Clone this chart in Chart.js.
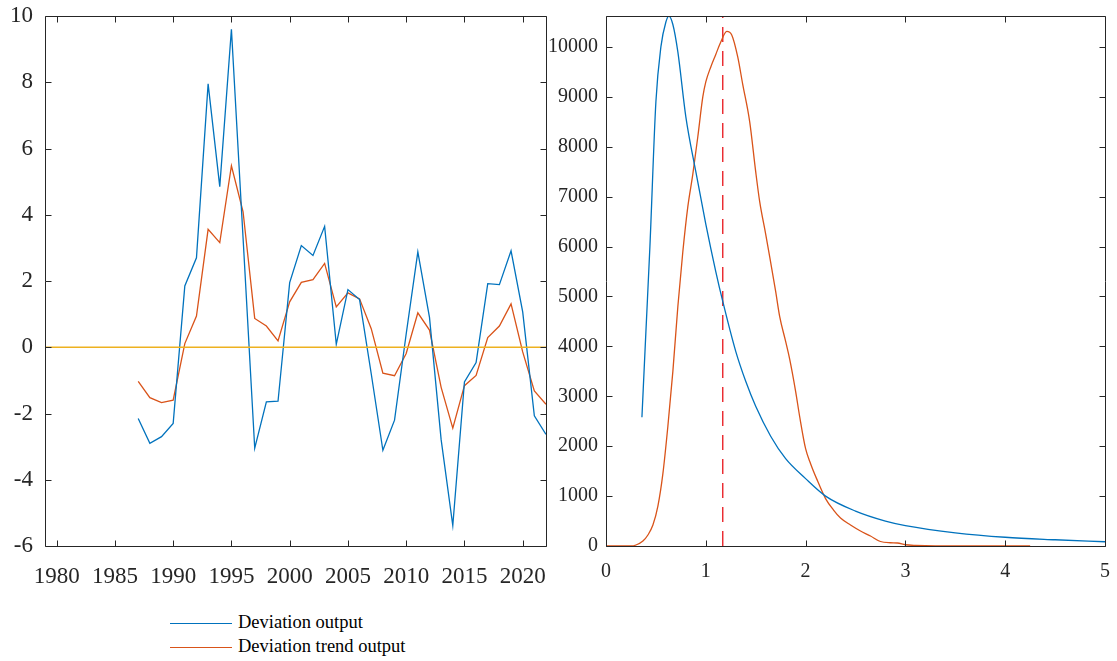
<!DOCTYPE html>
<html>
<head>
<meta charset="utf-8">
<script src="https://cdn.jsdelivr.net/npm/chart.js@4.4.1/dist/chart.umd.min.js"></script>
<style>
  body { margin: 0; background: #fff; width: 1117px; height: 661px; overflow: hidden; position: relative; }
  canvas { position: absolute; top: 0; }
  #left { left: 0; }
  #right { left: 540px; }
  #legend { position: absolute; left: 170px; top: 610px; font-family: 'Liberation Serif', 'Times New Roman', serif; font-size: 18.5px; color: #000; line-height: 24px; }
  #legend .row { white-space: nowrap; }
  #legend .swatch { display: inline-block; width: 62px; height: 0; vertical-align: middle; margin-right: 6px; }
</style>
</head>
<body>
<canvas id="left" width="560" height="600"></canvas>
<canvas id="right" width="577" height="600"></canvas>
<div id="legend">
  <div class="row"><span class="swatch" style="border-top: 1.3px solid #0072BD"></span>Deviation output</div>
  <div class="row"><span class="swatch" style="border-top: 1.3px solid #D95319"></span>Deviation trend output</div>
</div>
<script>
// left panel: yearly deviations
const years = [1987, 1988, 1989, 1990, 1991, 1992, 1993, 1994, 1995, 1996, 1997, 1998,
  1999, 2000, 2001, 2002, 2003, 2004, 2005, 2006, 2007, 2008, 2009, 2010,
  2011, 2012, 2013, 2014, 2015, 2016, 2017, 2018, 2019, 2020, 2021, 2022];
const deviationOutput = [-2.15, -2.9, -2.7, -2.3, 1.85, 2.7, 7.95, 4.85, 9.6, 3.3, -3.05, -1.65,
  -1.63, 1.95, 3.07, 2.77, 3.65, 0.09, 1.74, 1.44, -0.8, -3.11, -2.2, 0.4,
  2.88, 0.9, -2.79, -5.38, -1.05, -0.46, 1.92, 1.89, 2.91, 1.07, -2.07, -2.63];
const deviationTrend = [-1.03, -1.52, -1.67, -1.6, 0.11, 0.94, 3.56, 3.16, 5.48, 4.09, 0.87, 0.64,
  0.19, 1.37, 1.96, 2.04, 2.53, 1.22, 1.64, 1.46, 0.56, -0.78, -0.86, -0.19,
  1.04, 0.52, -1.21, -2.44, -1.16, -0.85, 0.29, 0.64, 1.31, -0.14, -1.32, -1.72];
const yearTicks = [1980, 1985, 1990, 1995, 2000, 2005, 2010, 2015, 2020];
const leftYTicks = [-6, -4, -2, 0, 2, 4, 6, 8, 10];

// right panel: distributions
const outputX = [0.36, 0.40, 0.44, 0.50, 0.55, 0.60, 0.63, 0.67, 0.72, 0.80, 0.90, 1.00, 1.10, 1.17,
  1.30, 1.40, 1.50, 1.65, 1.80, 2.00, 2.20, 2.50, 2.80, 3.00, 3.50, 4.00, 4.50, 5.00];
const outputY = [2580, 4300, 6000, 8900, 10000, 10500, 10620, 10450, 9900, 8600, 7500, 6450, 5500, 4900,
  3900, 3300, 2800, 2200, 1750, 1350, 1000, 700, 500, 410, 265, 175, 125, 85];
const trendX = [0, 0.25, 0.30, 0.37, 0.42, 0.47, 0.52, 0.57, 0.62, 0.67, 0.72, 0.77, 0.82, 0.87, 0.92,
  0.97, 1.00, 1.05, 1.10, 1.15, 1.21, 1.26, 1.32, 1.37, 1.44, 1.50, 1.54, 1.60, 1.64, 1.70, 1.74,
  1.80, 1.84, 1.90, 1.94, 2.00, 2.05, 2.11, 2.20, 2.28, 2.35, 2.45, 2.55, 2.65, 2.75, 2.85, 2.92,
  3.00, 3.10, 3.30, 4.25];
const trendY = [0, 0, 20, 100, 220, 420, 800, 1450, 2400, 3500, 4800, 5900, 6800, 7450, 8200,
  9000, 9300, 9600, 9850, 10100, 10310, 10240, 9800, 9250, 8500, 7500, 6900, 6250, 5800, 5100, 4600,
  4100, 3750, 3100, 2600, 1950, 1650, 1350, 950, 720, 560, 420, 300, 200, 90, 65, 60,
  25, 10, 0, 0];
const markerX = 1.17;
const rightXTicks = [0, 1, 2, 3, 4, 5];
const rightYTicks = [0, 1000, 2000, 3000, 4000, 5000, 6000, 7000, 8000, 9000, 10000];

const serif = "'Liberation Serif', 'Times New Roman', serif";
const axisColor = '#262626';

function pts(xs, ys) {
  return xs.map((x, i) => ({ x: x, y: ys[i] }));
}

// box round the plot with inward ticks on all four sides
const frame = {
  id: 'frame',
  afterDatasetsDraw(chart) {
    const { ctx, chartArea: a, scales } = chart;
    const len = 6;
    ctx.save();
    ctx.strokeStyle = axisColor;
    ctx.lineWidth = 1;
    ctx.beginPath();
    const L = Math.round(a.left) + 0.5, R = Math.round(a.right) + 0.5;
    const T = Math.round(a.top) + 0.5, B = Math.round(a.bottom) + 0.5;
    ctx.rect(L, T, R - L, B - T);
    scales.x.ticks.forEach(t => {
      const px = Math.round(scales.x.getPixelForValue(t.value)) + 0.5;
      ctx.moveTo(px, B); ctx.lineTo(px, B - len);
      ctx.moveTo(px, T); ctx.lineTo(px, T + len);
    });
    scales.y.ticks.forEach(t => {
      const py = Math.round(scales.y.getPixelForValue(t.value)) + 0.5;
      ctx.moveTo(L, py); ctx.lineTo(L + len, py);
      ctx.moveTo(R, py); ctx.lineTo(R - len, py);
    });
    ctx.stroke();
    ctx.restore();
  }
};

// fixed axis size, and no extra room asked for the end labels
function xFit(s) { s.height = 54; s.paddingLeft = 0; s.paddingRight = 0; }
function yFit(w) {
  return s => { s.width = w; s.paddingTop = 0; s.paddingBottom = 0; };
}

function axis(min, max, tickValues, size, pad, fit) {
  return {
    type: 'linear',
    min: min,
    max: max,
    afterBuildTicks: s => { s.ticks = tickValues.map(v => ({ value: v })); },
    afterFit: fit,
    grid: { display: false, drawTicks: false },
    border: { display: false },
    ticks: {
      font: { family: serif, size: size },
      color: axisColor,
      padding: pad,
      maxRotation: 0,
      autoSkip: false,
      callback: v => String(v)
    }
  };
}

function draw() {
  Chart.defaults.font.family = serif;

  new Chart(document.getElementById('left').getContext('2d'), {
    type: 'line',
    data: {
      datasets: [
        { data: [{ x: 1979, y: 0 }, { x: 2022, y: 0 }], borderColor: '#EDB120', borderWidth: 1.6, pointRadius: 0 },
        { data: pts(years, deviationOutput), borderColor: '#0072BD', borderWidth: 1.3, pointRadius: 0, tension: 0 },
        { data: pts(years, deviationTrend), borderColor: '#D95319', borderWidth: 1.3, pointRadius: 0, tension: 0 }
      ]
    },
    options: {
      responsive: false,
      animation: false,
      layout: { padding: { top: 16, right: 14, left: 0, bottom: 0 } },
      plugins: { legend: { display: false }, tooltip: { enabled: false } },
      scales: {
        x: axis(1979, 2022, yearTicks, 23, 17, xFit),
        y: axis(-6, 10, leftYTicks, 23, 12, yFit(45))
      }
    },
    plugins: [frame]
  });

  new Chart(document.getElementById('right').getContext('2d'), {
    type: 'line',
    data: {
      datasets: [
        { data: pts(outputX, outputY), borderColor: '#0072BD', borderWidth: 1.3, pointRadius: 0, cubicInterpolationMode: 'monotone' },
        { data: pts(trendX, trendY), borderColor: '#D95319', borderWidth: 1.3, pointRadius: 0, cubicInterpolationMode: 'monotone' },
        { data: [{ x: markerX, y: 0 }, { x: markerX, y: 10620 }], borderColor: '#E8141A', borderWidth: 1.3, borderDash: [15, 9], pointRadius: 0 }
      ]
    },
    options: {
      responsive: false,
      animation: false,
      layout: { padding: { top: 16, right: 12, left: 0, bottom: 0 } },
      plugins: { legend: { display: false }, tooltip: { enabled: false } },
      scales: {
        x: axis(0, 5, rightXTicks, 20, 14, xFit),
        y: axis(0, 10620, rightYTicks, 20, 8, yFit(66))
      }
    },
    plugins: [frame]
  });
}

document.fonts.load("23px 'Liberation Serif'").then(draw, draw);
</script>
</body>
</html>
